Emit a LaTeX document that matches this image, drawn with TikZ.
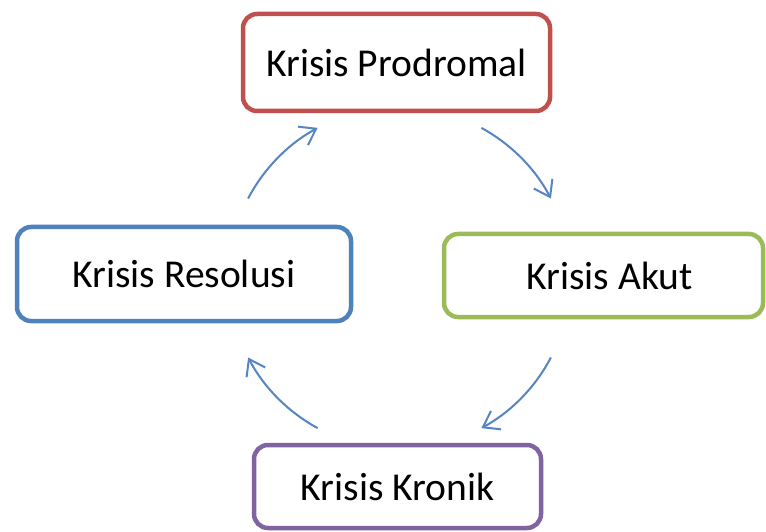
\documentclass[tikz,border=0pt]{standalone}
\usepackage{fontspec}
\setmainfont{Carlito}
\usetikzlibrary{arrows.meta}
\definecolor{cred}{HTML}{C0504D}
\definecolor{cgreen}{HTML}{9BBB59}
\definecolor{cblue}{HTML}{4F81BD}
\definecolor{cpurple}{HTML}{8064A2}
\definecolor{carrow}{HTML}{5585C2}
\tikzset{
  stagebox/.style={draw, line width=4.5pt, rounded corners=14pt, fill=white,
    inner sep=0pt, font=\fontsize{39.5}{47}\selectfont, text=black},
  cyclearrow/.style={draw=carrow, line width=2pt,
    -{Straight Barb[length=15pt,width=21pt,line width=2pt]}}
}
\begin{document}
\begin{tikzpicture}[x=1pt,y=1pt]
\useasboundingbox[fill=white] (0,0) rectangle (766,531);
\node[stagebox, draw=cred, minimum width=307pt, minimum height=97pt] (prod) at (396.5,468.5) {Krisis Prodromal};
\node[stagebox, draw=cgreen, minimum width=319pt, minimum height=83pt] (akut) at (603.5,255.5) {\hspace*{12pt}Krisis Akut};
\node[stagebox, draw=cblue, minimum width=334pt, minimum height=94pt] (reso) at (184,257) {Krisis Resolusi};
\node[stagebox, draw=cpurple, minimum width=287pt, minimum height=83pt] (kron) at (397.5,44.5) {Krisis Kronik};
\coordinate (c) at (399.5,253);
\path (c) ++(152.3:171) coordinate (a1s);
\path (c) ++(61.4:171) coordinate (a2s);
\path (c) ++(-27.7:171) coordinate (a3s);
\path (c) ++(-118.6:171) coordinate (a4s);
\draw[cyclearrow] (a1s) arc[start angle=152.3, end angle=118.6, radius=171];
\draw[cyclearrow] (a2s) arc[start angle=61.4, end angle=27.7, radius=171];
\draw[cyclearrow] (a3s) arc[start angle=-27.7, end angle=-61.4, radius=171];
\draw[cyclearrow] (a4s) arc[start angle=-118.6, end angle=-152.3, radius=171];
\end{tikzpicture}
\end{document}
